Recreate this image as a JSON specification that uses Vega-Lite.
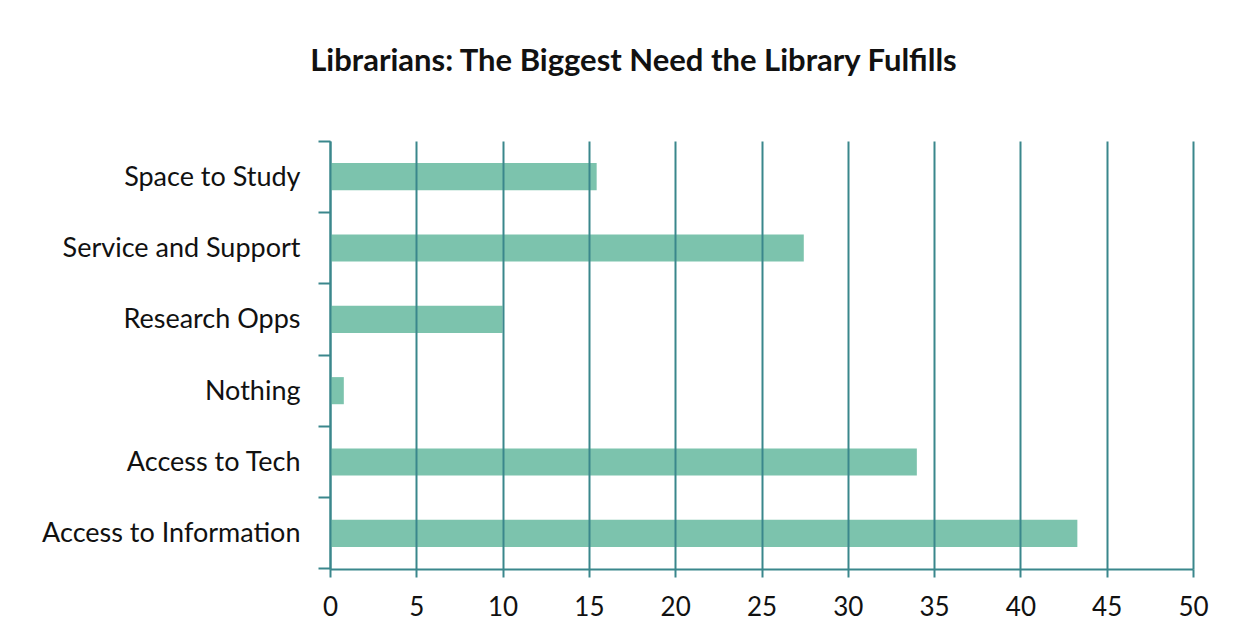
{
  "$schema": "https://vega.github.io/schema/vega-lite/v6.json",
  "width": 863,
  "height": 428,
  "autosize": {"type": "none"},
  "padding": {"left": 330, "top": 141, "right": 51, "bottom": 74},
  "background": "white",
  "title": {
    "text": "Librarians: The Biggest Need the Library Fulfills",
    "font": "Lato",
    "fontSize": 31,
    "fontWeight": "bold",
    "color": "#111111",
    "anchor": "middle",
    "frame": "group",
    "dx": -128,
    "baseline": "alphabetic",
    "offset": 25
  },
  "data": {
    "values": [
      {"need": "Space to Study", "value": 15.45},
      {"need": "Service and Support", "value": 27.45},
      {"need": "Research Opps", "value": 10.0},
      {"need": "Nothing", "value": 0.8},
      {"need": "Access to Tech", "value": 34.0},
      {"need": "Access to Information", "value": 43.3}
    ]
  },
  "mark": {"type": "bar", "color": "#7cc3ad", "height": {"band": 0.38}},
  "encoding": {
    "y": {
      "field": "need",
      "type": "nominal",
      "sort": ["Space to Study", "Service and Support", "Research Opps", "Nothing", "Access to Tech", "Access to Information"],
      "scale": {"paddingInner": 0, "paddingOuter": 0},
      "axis": {
        "title": null,
        "bandPosition": 1,
        "tickExtra": true,
        "tickSize": 12,
        "tickWidth": 2,
        "tickColor": "#3a878c",
        "domainColor": "#3a878c",
        "domainWidth": 2,
        "labelFont": "Lato",
        "labelFontSize": 27,
        "labelColor": "#111111",
        "labelPadding": 18,
        "labelLimit": 0,
        "labelOffset": 1,
        "grid": false
      }
    },
    "x": {
      "field": "value",
      "type": "quantitative",
      "scale": {"domain": [0, 50], "nice": false},
      "axis": {
        "title": null,
        "values": [0, 5, 10, 15, 20, 25, 30, 35, 40, 45, 50],
        "grid": true,
        "gridColor": "#3a878c",
        "gridWidth": 2,
        "gridOpacity": 1,
        "tickSize": 8,
        "tickWidth": 2,
        "tickColor": "#3a878c",
        "domainColor": "#3a878c",
        "domainWidth": 2,
        "labelFont": "Lato",
        "labelFontSize": 26,
        "labelColor": "#111111",
        "labelPadding": 17,
        "labelFlush": false,
        "zindex": 1
      }
    }
  },
  "config": {"view": {"stroke": null}}
}
